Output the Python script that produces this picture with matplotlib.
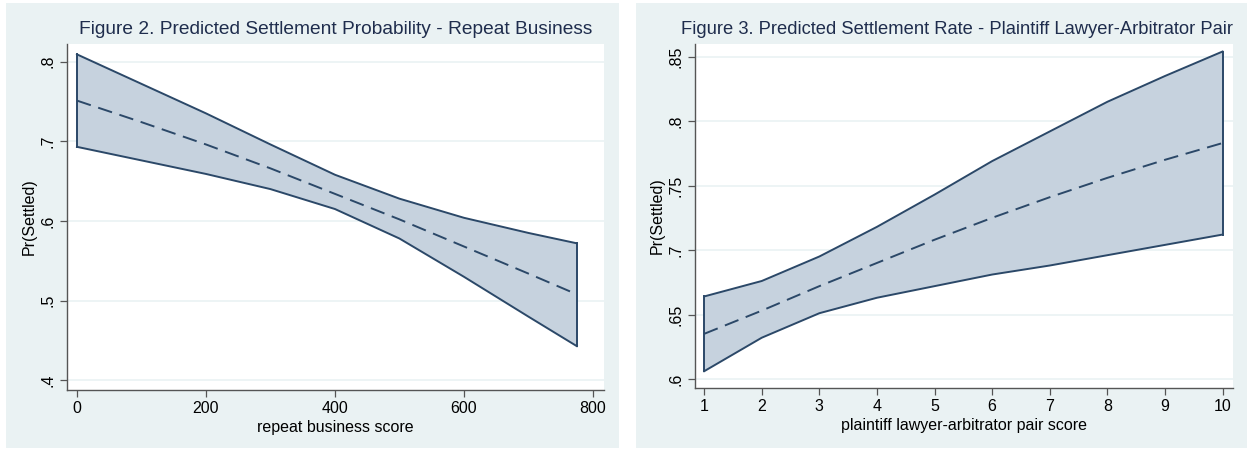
import matplotlib.pyplot as plt
from matplotlib.patches import Rectangle

# Figure 2 - repeat business score
rb_score = [0, 100, 200, 300, 400, 500, 600, 700, 775]
rb_pred = [0.751, 0.724, 0.696, 0.666, 0.634, 0.602, 0.568, 0.534, 0.508]
rb_upper = [0.809, 0.772, 0.735, 0.696, 0.658, 0.628, 0.604, 0.585, 0.572]
rb_lower = [0.693, 0.676, 0.659, 0.640, 0.615, 0.578, 0.530, 0.480, 0.443]
rb_yticks = [0.4, 0.5, 0.6, 0.7, 0.8]
rb_yticklabels = ['.4', '.5', '.6', '.7', '.8']
rb_xticks = [0, 200, 400, 600, 800]

# Figure 3 - plaintiff lawyer-arbitrator pair score
pair_score = [1, 2, 3, 4, 5, 6, 7, 8, 9, 10]
pair_pred = [0.635, 0.653, 0.672, 0.690, 0.708, 0.725, 0.741, 0.756, 0.770, 0.783]
pair_upper = [0.664, 0.676, 0.695, 0.718, 0.743, 0.769, 0.792, 0.815, 0.835, 0.854]
pair_lower = [0.606, 0.632, 0.651, 0.663, 0.672, 0.681, 0.688, 0.696, 0.704, 0.712]
pair_yticks = [0.6, 0.65, 0.7, 0.75, 0.8, 0.85]
pair_yticklabels = ['.6', '.65', '.7', '.75', '.8', '.85']
pair_xticks = list(range(1, 11))

BG = '#eaf2f3'
FILL = '#c6d2de'
LINE = '#2b4868'
TITLE = '#1f2d4d'
AXIS = '#555555'

plt.rcParams['font.family'] = ['Liberation Sans', 'DejaVu Sans']

fig = plt.figure(figsize=(12.47, 4.49), dpi=100)
fig.patches.append(Rectangle((0.0048, 0.0022), 0.4916, 0.9911, transform=fig.transFigure,
                             facecolor=BG, edgecolor='none', zorder=-10))
fig.patches.append(Rectangle((0.510, 0.0022), 0.490, 0.9911, transform=fig.transFigure,
                             facecolor=BG, edgecolor='none', zorder=-10))


def draw(ax, x, pred, lo, hi, xticks, yticks, yticklabels, xlim, ylim, title, xlabel,
         title_size=13.8, title_x=0.5):
    ax.set_facecolor('white')
    ax.fill_between(x, lo, hi, facecolor=FILL, edgecolor='none', zorder=2)
    ax.plot(x, hi, color=LINE, lw=1.4, zorder=3)
    ax.plot(x, lo, color=LINE, lw=1.4, zorder=3)
    ax.plot([x[0], x[0]], [lo[0], hi[0]], color=LINE, lw=1.4, zorder=3)
    ax.plot([x[-1], x[-1]], [lo[-1], hi[-1]], color=LINE, lw=1.4, zorder=3)
    ax.plot(x, pred, color=LINE, lw=1.4, ls=(0, (7.5, 4)), zorder=4)
    ax.set_xlim(*xlim)
    ax.set_ylim(*ylim)
    ax.set_xticks(xticks)
    ax.set_yticks(yticks)
    ax.set_yticklabels(yticklabels, rotation=90, va='center')
    ax.grid(axis='y', color=BG, lw=1.2, zorder=1)
    ax.set_axisbelow(True)
    for s in ['top', 'right']:
        ax.spines[s].set_visible(False)
    for s in ['left', 'bottom']:
        ax.spines[s].set_color(AXIS)
        ax.spines[s].set_linewidth(1.0)
    ax.tick_params(direction='out', length=5, width=0.9, color=AXIS,
                   labelsize=11.5, labelcolor='black', pad=3)
    ax.set_title(title, fontsize=title_size, color=TITLE, pad=7, x=title_x)
    ax.set_xlabel(xlabel, fontsize=11.5, labelpad=3)
    ax.set_ylabel('Pr(Settled)', fontsize=11.5, labelpad=3)


ax1 = fig.add_axes([0.0537, 0.1314, 0.4306, 0.7706])
draw(ax1, rb_score, rb_pred, rb_lower, rb_upper, rb_xticks, rb_yticks, rb_yticklabels,
     (-15.5, 817), (0.388, 0.822),
     'Figure 2. Predicted Settlement Probability - Repeat Business', 'repeat business score')

ax2 = fig.add_axes([0.5573, 0.1359, 0.4314, 0.766])
draw(ax2, pair_score, pair_pred, pair_lower, pair_upper, pair_xticks, pair_yticks, pair_yticklabels,
     (0.84, 10.18), (0.593, 0.8598),
     'Figure 3. Predicted Settlement Rate - Plaintiff Lawyer-Arbitrator Pair',
     'plaintiff lawyer-arbitrator pair score', title_size=13.2, title_x=0.487)

fig.savefig('out.png', dpi=100, facecolor='white')
